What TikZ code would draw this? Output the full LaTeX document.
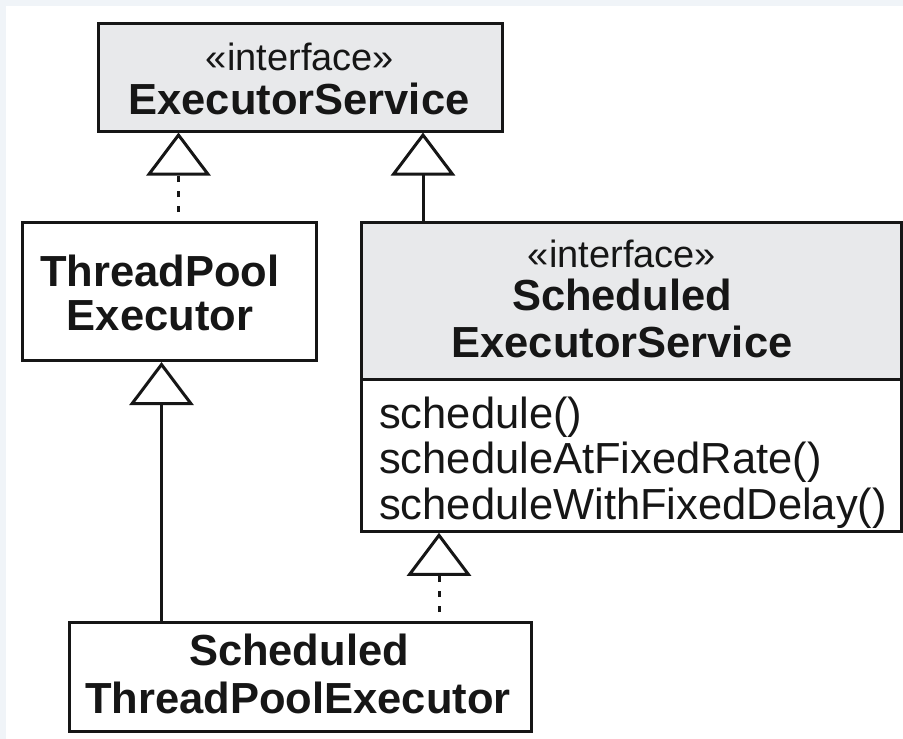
\documentclass[tikz,border=0pt]{standalone}
\usepackage{fontspec}
\setmainfont{Liberation Sans}
\usetikzlibrary{arrows.meta}

\definecolor{ink}{HTML}{161616}
\definecolor{headfill}{HTML}{E8E9EB}
\definecolor{pagebg}{HTML}{F0F4F8}

\tikzset{
  classbox/.style={draw=ink, line width=3pt, rectangle, inner sep=0pt},
  header/.style={classbox, fill=headfill},
  plain/.style={classbox, fill=white},
  classname/.style={text=ink, inner sep=0pt, anchor=base,
    font=\fontsize{43.5}{43.5}\selectfont\bfseries},
  stereo/.style={text=ink, inner sep=0pt, anchor=base,
    font=\fontsize{38}{38}\selectfont},
  operation/.style={text=ink, inner sep=0pt, anchor=base west,
    font=\fontsize{43.5}{43.5}\selectfont},
  realizes/.style={draw=ink, line width=3pt,
    dash pattern=on 6pt off 9pt, dash phase=6pt,
    -{Triangle[open, length=43pt, width=64pt]}},
  extends/.style={draw=ink, line width=3pt,
    -{Triangle[open, length=43pt, width=64pt]}}
}

\begin{document}
\begin{tikzpicture}[x=1pt, y=-1pt]
  % page background with a thin tinted margin on the top and left
  \fill[pagebg] (0,0) rectangle (903,739);
  \fill[white] (6,6) rectangle (903,739);
  \useasboundingbox (0,0) rectangle (903,739);

  % ExecutorService
  \node[header, minimum width=403.6pt, minimum height=108pt] (es) at (300.5,77) {};
  \node[stereo] (es-st) at (300,70) {«interface»};
  \node[classname] (es-nm) at (299,114) {ExecutorService};

  % ThreadPoolExecutor
  \node[plain, minimum width=293.6pt, minimum height=138pt] (tpe) at (169.5,291.5) {};
  \node[classname] (tpe-n1) at (160,286) {ThreadPool};
  \node[classname] (tpe-n2) at (160,330) {Executor};

  % ScheduledExecutorService: header and operations compartment
  \node[header, minimum width=540.3pt, minimum height=156.5pt] (ses) at (631.15,300.75) {};
  \node[plain, minimum width=540.3pt, minimum height=152.3pt] (ses-ops) at (631.15,455.15) {};
  \node[stereo] (ses-st) at (622,267) {«interface»};
  \node[classname] (ses-n1) at (622,310) {Scheduled};
  \node[classname] (ses-n2) at (622,357) {ExecutorService};
  \node[operation] (op1) at (379,428) {schedule()};
  \node[operation] (op2) at (379,473.5) {scheduleAtFixedRate()};
  \node[operation] (op3) at (379,519) {scheduleWithFixedDelay()};

  % ScheduledThreadPoolExecutor
  \node[plain, minimum width=461.6pt, minimum height=108.6pt] (stpe) at (300.5,677) {};
  \node[classname] (stpe-n1) at (299,665) {Scheduled};
  \node[classname] (stpe-n2) at (298,713) {ThreadPoolExecutor};

  % vertical positions of the connectors
  \coordinate (xa) at (178.5,0);
  \coordinate (xb) at (423,0);
  \coordinate (xc) at (161.5,0);
  \coordinate (xd) at (439,0);

  % realizations and generalizations
  \draw[realizes] (xa |- tpe.north) -- (xa |- es.south);
  \draw[extends] (xb |- ses.north) -- (xb |- es.south);
  \draw[extends] (xc |- stpe.north) -- (xc |- tpe.south);
  \draw[realizes] (xd |- stpe.north) -- (xd |- ses-ops.south);
\end{tikzpicture}
\end{document}
